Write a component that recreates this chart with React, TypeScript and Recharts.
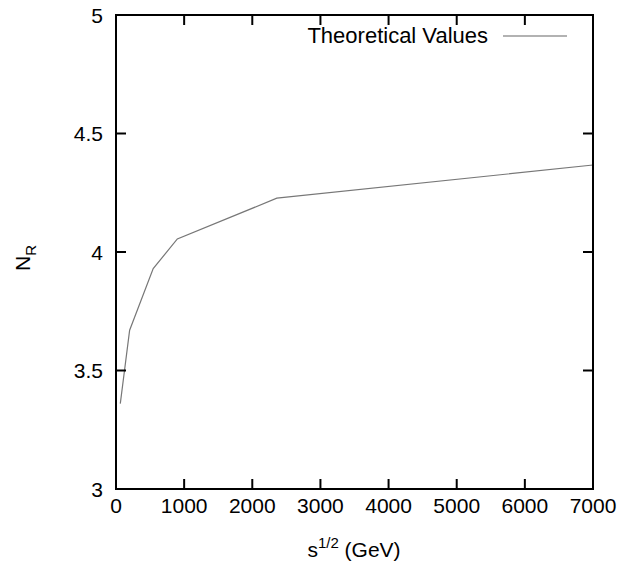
import { LineChart, Line, XAxis, YAxis, ReferenceArea } from 'recharts';

// sqrt(s) in GeV and the theoretical N_R at each energy
const energies = [63, 200, 546, 900, 2360, 7000];
const nR = [3.36, 3.67, 3.93, 4.055, 4.227, 4.367];

const xTicks = [0, 1000, 2000, 3000, 4000, 5000, 6000, 7000];
const yTicks = [3, 3.5, 4, 4.5, 5];

const data = energies.map((e, i) => ({ e, n: nR[i] }));

const font = '"Liberation Sans", Arial, sans-serif';
const axisLine = { stroke: '#000', strokeWidth: 2 };
const TICK = 10;

// gnuplot style: ticks point into the plot
function BottomTick(props: any) {
  const { x, y, payload } = props;
  return (
    <g>
      <line x1={x} y1={y} x2={x} y2={y - TICK} stroke="#000" strokeWidth={2} />
      <text x={x} y={y + 24} textAnchor="middle" fontFamily={font} fontSize={21} fill="#000">
        {payload.value}
      </text>
    </g>
  );
}

function LeftTick(props: any) {
  const { x, y, payload } = props;
  return (
    <g>
      <line x1={x} y1={y} x2={x + TICK} y2={y} stroke="#000" strokeWidth={2} />
      <text x={x - 13} y={y + 7.5} textAnchor="end" fontFamily={font} fontSize={21} fill="#000">
        {payload.value}
      </text>
    </g>
  );
}

function TopTick({ x, y }: any) {
  return <line x1={x} y1={y} x2={x} y2={y + TICK} stroke="#000" strokeWidth={2} />;
}

function RightTick({ x, y }: any) {
  return <line x1={x} y1={y} x2={x - TICK} y2={y} stroke="#000" strokeWidth={2} />;
}

export default function App() {
  return (
    <div style={{ position: 'absolute', left: 0, top: 0, width: 637, height: 568, background: '#fff' }}>
      <LineChart width={637} height={568} data={data} margin={{ top: 14, right: 43, bottom: 49, left: 56 }}>
        <ReferenceArea
          x1={0}
          x2={7000}
          y1={3}
          y2={5}
          fill="none"
          fillOpacity={0}
          stroke="#000"
          strokeWidth={2}
          ifOverflow="visible"
        />
        <XAxis
          dataKey="e"
          type="number"
          domain={[0, 7000]}
          ticks={xTicks}
          height={30}
          tick={<BottomTick />}
          tickLine={false}
          axisLine={false}
          tickSize={0}
          tickMargin={0}
        />
        <XAxis
          xAxisId="top"
          dataKey="e"
          orientation="top"
          type="number"
          domain={[0, 7000]}
          ticks={xTicks}
          height={1}
          tick={<TopTick />}
          tickLine={false}
          axisLine={axisLine}
          tickSize={0}
          tickMargin={0}
        />
        <YAxis
          type="number"
          domain={[3, 5]}
          ticks={yTicks}
          width={60}
          tick={<LeftTick />}
          tickLine={false}
          axisLine={false}
          tickSize={0}
          tickMargin={0}
        />
        <YAxis
          yAxisId="right"
          orientation="right"
          type="number"
          domain={[3, 5]}
          ticks={yTicks}
          width={1}
          tick={<RightTick />}
          tickLine={false}
          axisLine={axisLine}
          tickSize={0}
          tickMargin={0}
        />
        {/* invisible copy so the top/right frame axes are active */}
        <Line
          xAxisId="top"
          yAxisId="right"
          dataKey="n"
          stroke="none"
          dot={false}
          legendType="none"
          isAnimationActive={false}
        />
        <Line
          dataKey="n"
          type="linear"
          stroke="#777"
          strokeWidth={1.2}
          dot={false}
          isAnimationActive={false}
        />
      </LineChart>
      <svg
        width={637}
        height={568}
        style={{ position: 'absolute', left: 0, top: 0, pointerEvents: 'none' }}
        fontFamily={font}
        fill="#000"
      >
        <text x={354} y={557} textAnchor="middle" fontSize={21}>
          s<tspan dy={-9} fontSize={15}>1/2</tspan>
          <tspan dy={9}> (GeV)</tspan>
        </text>
        <text transform="translate(30, 258) rotate(-90)" textAnchor="middle" fontSize={21}>
          N<tspan dy={6} fontSize={15}>R</tspan>
        </text>
        <text x={488} y={43} textAnchor="end" fontSize={22}>
          Theoretical Values
        </text>
        <line x1={503} y1={36} x2={567} y2={36} stroke="#999" strokeWidth={1.5} />
      </svg>
    </div>
  );
}
